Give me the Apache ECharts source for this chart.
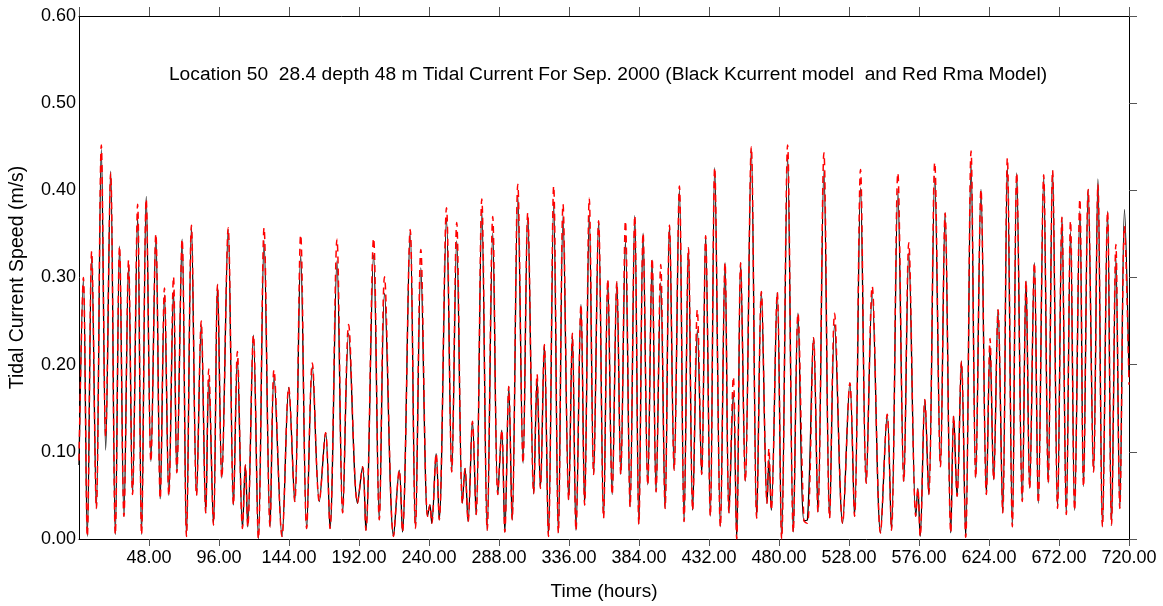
<!DOCTYPE html>
<html><head><meta charset="utf-8">
<script src="https://cdn.jsdelivr.net/npm/echarts@6/dist/echarts.min.js"></script>
<style>html,body{margin:0;padding:0;background:#fff}#c{width:1163px;height:606px}</style>
</head><body><div id="c"></div>
<script>
// Turning points (hours), with speeds (m/s) of both models
const hours = [
 0,3.0,5.7,8.7,11.9,15.3,18.3,21.7,24.9,27.8,30.8,34.0,36.7,40.2,42.9,46.1,49.3,52.7,55.7,58.6,61.6,64.8,67.1,70.7,73.7,77.1,80.6,83.8,86.9,89.0,
 92.2,95.0,97.9,102.3,105.9,108.6,112.1,114.1,115.7,119.6,123.0,126.9,131.0,133.7,139.2,143.8,147.9,152.0,156.1,160.0,164.8,169.1,172.1,176.9,
 180.8,184.9,191.0,194.5,196.7,202.0,205.9,209.5,215.7,219.6,221.8,227.1,230.7,234.4,239.0,240.6,241.9,244.9,247.0,252.0,255.6,259.0,262.9,264.7,266.8,269.8,
 272.3,276.2,279.9,283.7,287.2,289.9,292.0,294.7,297.0,300.9,304.5,307.7,311.8,314.1,316.4,319.1,321.9,325.5,328.7,331.9,335.8,338.3,340.8,344.2,346.7,349.9,352.9,356.3,359.7,
 362.6,365.6,368.8,371.5,374.7,377.9,381.1,383.9,386.8,390.0,393.0,395.7,398.9,401.9,404.9,408.1,411.7,414.9,417.9,420.8,424.0,427.0,429.7,432.9,435.9,439.8,443.0,445.7,448.7,451.0,
 453.7,456.9,461.0,464.7,467.9,471.8,473.1,474.7,478.8,481.8,485.9,489.8,493.0,497.1,499.5,503.7,506.7,510.8,514.7,518.1,523.6,528.6,531.8,535.9,539.8,
 543.9,549.6,554.2,557.1,561.5,565.6,569.0,573.8,575.2,576.8,580.0,582.7,586.8,590.7,593.9,597.8,599.8,602.1,605.1,608.0,611.7,614.9,618.5,622.2,624.7,627.2,630.2,
 633.4,636.6,640.0,643.0,646.8,649.4,651.9,655.1,657.8,661.5,664.6,667.6,671.0,674.0,677.0,679.9,682.7,686.3,688.8,692.0,695.7,698.7,701.8,705.3,708.0,711.0,713.7,716.9,720
];
const kcurrent = [
 0.085,0.298,0.003,0.326,0.035,0.447,0.102,0.422,0.005,0.336,0.026,0.315,0.051,0.370,0.005,0.393,0.089,0.348,0.046,0.280,0.050,0.284,0.076,0.344,0.003,0.358,0.050,0.246,0.030,0.183,
 0.016,0.292,0.070,0.355,0.039,0.206,0.012,0.085,0.014,0.234,0.000,0.342,0.014,0.187,0.003,0.174,0.043,0.325,0.012,0.198,0.043,0.122,0.012,0.319,
 0.030,0.236,0.041,0.083,0.010,0.326,0.022,0.282,0.003,0.079,0.008,0.353,0.012,0.311,0.026,0.039,0.018,0.098,0.022,0.367,0.077,0.342,0.041,0.081,0.020,0.135,
 0.028,0.376,0.010,0.351,0.051,0.125,0.008,0.175,0.022,0.393,0.087,0.372,0.052,0.183,0.058,0.223,0.003,0.384,0.007,0.371,0.045,0.233,0.010,0.269,0.039,0.371,0.074,0.365,0.024,
 0.296,0.051,0.295,0.074,0.342,0.037,0.371,0.017,0.351,0.062,0.320,0.054,0.294,0.035,0.360,0.079,0.401,0.020,0.334,0.033,0.240,0.074,0.348,0.026,0.426,0.014,0.317,0.030,0.167,0.000,
 0.317,0.066,0.447,0.024,0.284,0.041,0.091,0.033,0.283,0.000,0.439,0.008,0.259,0.021,0.022,0.231,0.031,0.424,0.024,0.246,0.018,0.179,0.026,0.403,0.064,
 0.282,0.007,0.143,0.010,0.399,0.066,0.328,0.026,0.058,0.003,0.160,0.051,0.416,0.083,0.374,0.007,0.141,0.049,0.204,0.002,0.432,0.070,0.401,0.051,0.221,0.068,0.263,
 0.030,0.428,0.014,0.420,0.043,0.296,0.058,0.317,0.041,0.415,0.064,0.423,0.035,0.369,0.028,0.353,0.033,0.376,0.060,0.401,0.077,0.413,0.014,0.376,0.016,0.323,0.035,0.378,0.190
];
const rma = [
 0.090,0.300,0.003,0.330,0.035,0.452,0.118,0.420,0.005,0.336,0.026,0.320,0.051,0.384,0.005,0.390,0.089,0.350,0.046,0.288,0.050,0.301,0.076,0.344,0.003,0.360,0.050,0.250,0.030,0.195,
 0.016,0.292,0.070,0.357,0.039,0.215,0.012,0.085,0.014,0.234,0.000,0.357,0.014,0.194,0.003,0.174,0.043,0.349,0.012,0.202,0.043,0.122,0.012,0.344,
 0.030,0.246,0.041,0.083,0.010,0.345,0.022,0.301,0.003,0.079,0.008,0.355,0.012,0.332,0.026,0.039,0.018,0.098,0.022,0.380,0.077,0.363,0.041,0.081,0.020,0.135,
 0.028,0.390,0.010,0.370,0.051,0.125,0.008,0.175,0.022,0.407,0.087,0.374,0.052,0.189,0.058,0.223,0.003,0.405,0.007,0.384,0.045,0.236,0.010,0.269,0.039,0.391,0.074,0.365,0.024,
 0.298,0.051,0.295,0.074,0.365,0.037,0.371,0.017,0.351,0.062,0.322,0.054,0.315,0.035,0.360,0.079,0.405,0.020,0.334,0.033,0.263,0.074,0.348,0.026,0.426,0.014,0.317,0.030,0.186,0.000,
 0.317,0.066,0.450,0.024,0.284,0.041,0.104,0.033,0.283,0.000,0.452,0.008,0.259,0.021,0.018,0.231,0.031,0.443,0.024,0.259,0.018,0.179,0.026,0.424,0.064,
 0.290,0.007,0.143,0.010,0.420,0.066,0.340,0.026,0.058,0.003,0.160,0.051,0.432,0.083,0.374,0.007,0.141,0.049,0.204,0.002,0.445,0.070,0.401,0.051,0.230,0.068,0.263,
 0.030,0.437,0.014,0.420,0.043,0.296,0.058,0.317,0.041,0.418,0.064,0.423,0.035,0.369,0.028,0.365,0.033,0.390,0.060,0.401,0.077,0.407,0.014,0.376,0.016,0.338,0.035,0.359,0.177
];
const titleText = 'Location 50  28.4 depth 48 m Tidal Current For Sep. 2000 (Black Kcurrent model  and Red Rma Model)';
const xName = 'Time (hours)';
const yName = 'Tidal Current Speed (m/s)';

const FONT = 'Liberation Sans, Arial, sans-serif';
const n = Math.min(hours.length, kcurrent.length, rma.length);
const kData = [], rData = [];
for (let i = 0; i < n; i++) { kData.push([hours[i], kcurrent[i]]); rData.push([hours[i], rma[i]]); }

const axisLine = { show: true, onZero: false, lineStyle: { color: '#000', width: 1 } };
const chart = echarts.init(document.getElementById('c'), null, { renderer: 'canvas' });
chart.setOption({
  animation: false,
  backgroundColor: '#fff',
  title: {
    text: titleText, left: 603, textAlign: 'center', top: 60,
    textStyle: { fontFamily: FONT, fontSize: 19.2, fontWeight: 'normal', color: '#000' }
  },
  grid: { left: 79, right: 34, top: 16, bottom: 67, containLabel: false },
  xAxis: [{
    type: 'value', min: 0, max: 720, interval: 48, position: 'bottom',
    name: xName, nameLocation: 'middle', nameGap: 43,
    nameTextStyle: { fontFamily: FONT, fontSize: 19, color: '#000' },
    axisLine: axisLine,
    axisTick: { show: true, inside: false, length: 7, lineStyle: { color: '#555' } },
    axisLabel: { show: true, showMinLabel: false, margin: 10, fontFamily: FONT, fontSize: 18, color: '#000',
      formatter: v => v === 0 ? '' : v.toFixed(2) },
    splitLine: { show: false }
  }, {
    type: 'value', min: 0, max: 720, interval: 48, position: 'top',
    axisLine: axisLine,
    axisTick: { show: true, inside: false, length: 9, lineStyle: { color: '#555' } },
    axisLabel: { show: false }, splitLine: { show: false }
  }],
  yAxis: [{
    type: 'value', min: 0, max: 0.6, interval: 0.1, position: 'left',
    name: yName, nameLocation: 'middle', nameGap: 51, nameRotate: 90,
    nameTextStyle: { fontFamily: FONT, fontSize: 19.5, color: '#000' },
    axisLine: axisLine,
    axisTick: { show: false },
    axisLabel: { show: true, margin: 3, fontFamily: FONT, fontSize: 18, color: '#000',
      formatter: v => v.toFixed(2) },
    splitLine: { show: false }
  }, {
    type: 'value', min: 0, max: 0.6, interval: 0.1, position: 'right',
    axisLine: axisLine,
    axisTick: { show: true, inside: false, length: 8, lineStyle: { color: '#555' } },
    axisLabel: { show: false }, splitLine: { show: false }
  }],
  series: [{
    name: 'Kcurrent', type: 'line', data: kData, smooth: 0.35, showSymbol: false, symbol: 'none',
    xAxisIndex: 0, yAxisIndex: 0, z: 2,
    lineStyle: { color: '#000', width: 1.3 }
  }, {
    name: 'Rma', type: 'line', data: rData, smooth: 0.35, showSymbol: false, symbol: 'none',
    xAxisIndex: 0, yAxisIndex: 0, z: 3,
    lineStyle: { color: '#ff0000', width: 1.5, type: [7, 5] }
  }]
});
</script>
</body></html>
